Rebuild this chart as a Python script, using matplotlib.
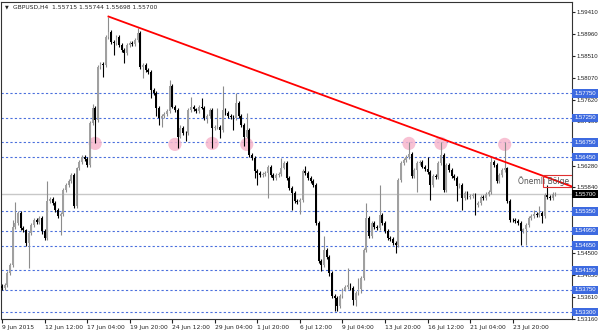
import matplotlib.pyplot as plt
import matplotlib.transforms as mtransforms
from matplotlib.patches import Rectangle
import numpy as np

# GBPUSD H4 closes
closes = [
    1.5379, 1.5386, 1.5409, 1.5426, 1.5504, 1.5511, 1.5531, 1.5501, 1.5496, 1.5470,
    1.5491, 1.5508, 1.5518, 1.5514, 1.5521, 1.5494, 1.5481, 1.5555, 1.5560, 1.5552,
    1.5538, 1.5525, 1.5530, 1.5579, 1.5589, 1.5596, 1.5609, 1.5545, 1.5622, 1.5636,
    1.5646, 1.5641, 1.5629, 1.5714, 1.5745, 1.5721, 1.5829, 1.5835, 1.5832, 1.5890,
    1.5900, 1.5880, 1.5877, 1.5890, 1.5873, 1.5863, 1.5856, 1.5873, 1.5877, 1.5876,
    1.5883, 1.5897, 1.5829, 1.5832, 1.5822, 1.5819, 1.5782, 1.5775, 1.5745, 1.5725,
    1.5728, 1.5733, 1.5738, 1.5789, 1.5748, 1.5741, 1.5687, 1.5704, 1.5695, 1.5694,
    1.5741, 1.5747, 1.5742, 1.5738, 1.5748, 1.5746, 1.5725, 1.5728, 1.5741, 1.5704,
    1.5706, 1.5707, 1.5701, 1.5741, 1.5734, 1.5729, 1.5727, 1.5725, 1.5756, 1.5729,
    1.5711, 1.5687, 1.5701, 1.5650, 1.5643, 1.5616, 1.5612, 1.5609, 1.5611, 1.5612,
    1.5626, 1.5609, 1.5602, 1.5609, 1.5611, 1.5624, 1.5633, 1.5602, 1.5582, 1.5572,
    1.5555, 1.5553, 1.5558, 1.5616, 1.5612, 1.5602, 1.5596, 1.5589, 1.5511, 1.5433,
    1.5426, 1.5457, 1.5443, 1.5409, 1.5362, 1.5359, 1.5342, 1.5362, 1.5376, 1.5382,
    1.5386, 1.5379, 1.5355, 1.5369, 1.5377, 1.5399, 1.5457, 1.5521, 1.5484, 1.5511,
    1.5504, 1.5501, 1.5528, 1.5512, 1.5494, 1.5481, 1.5479, 1.5470, 1.5467, 1.5599,
    1.5633, 1.5640, 1.5646, 1.5652, 1.5606, 1.5619, 1.5633, 1.5636, 1.5626, 1.5620,
    1.5614, 1.5589, 1.5606, 1.5605, 1.5633, 1.5650, 1.5579, 1.5629, 1.5619, 1.5606,
    1.5602, 1.5586, 1.5589, 1.5562, 1.5572, 1.5565, 1.5567, 1.5569, 1.5548, 1.5552,
    1.5565, 1.5562, 1.5570, 1.5575, 1.5636, 1.5629, 1.5596, 1.5609, 1.5619, 1.5622,
    1.5555, 1.5518, 1.5517, 1.5516, 1.5511, 1.5494, 1.5498, 1.5508, 1.5521, 1.5526,
    1.5530, 1.5528, 1.5531, 1.5525, 1.5569, 1.5565, 1.5562, 1.5570, 1.5570,
]
first_open = 1.5384

# wick lengths in pips above / below the body
up_wick = [
    4, 4, 4, 4, 14, 43, 4, 4, 4, 4,
    4, 4, 4, 4, 4, 4, 4, 41, 4, 4,
    4, 4, 4, 4, 4, 4, 4, 4, 4, 4,
    4, 4, 4, 4, 8, 4, 4, 4, 4, 4,
    31, 4, 4, 4, 4, 4, 4, 4, 4, 4,
    4, 10, 4, 4, 4, 4, 4, 4, 4, 4,
    4, 4, 4, 13, 4, 4, 4, 7, 4, 4,
    4, 20, 4, 4, 4, 17, 4, 4, 4, 4,
    4, 38, 4, 48, 4, 4, 4, 4, 19, 4,
    4, 4, 33, 4, 4, 4, 4, 4, 4, 4,
    4, 4, 4, 4, 4, 19, 4, 4, 4, 4,
    4, 4, 4, 4, 11, 4, 4, 4, 4, 4,
    4, 27, 4, 4, 4, 4, 4, 4, 4, 4,
    34, 4, 4, 4, 22, 4, 4, 31, 4, 4,
    4, 4, 61, 4, 4, 4, 4, 4, 4, 4,
    4, 4, 4, 23, 4, 4, 4, 4, 4, 4,
    26, 4, 4, 4, 4, 25, 4, 4, 4, 4,
    4, 4, 4, 4, 4, 4, 4, 4, 4, 4,
    4, 4, 4, 4, 10, 4, 4, 4, 4, 53,
    4, 4, 4, 4, 4, 4, 4, 4, 4, 4,
    8, 4, 14, 4, 4, 20, 4, 4, 4,
]
down_wick = [
    5, 4, 4, 4, 4, 4, 4, 4, 4, 6,
    50, 4, 4, 4, 4, 6, 4, 4, 4, 4,
    4, 4, 38, 4, 4, 4, 4, 4, 4, 4,
    4, 4, 4, 4, 4, 47, 4, 4, 23, 4,
    4, 4, 25, 4, 4, 4, 20, 4, 4, 4,
    4, 4, 4, 23, 4, 4, 17, 4, 17, 14,
    18, 4, 4, 4, 4, 4, 24, 4, 4, 17,
    4, 4, 4, 4, 4, 4, 4, 10, 4, 41,
    4, 4, 17, 4, 4, 4, 4, 24, 4, 4,
    4, 20, 4, 4, 4, 14, 23, 4, 4, 4,
    50, 4, 4, 4, 4, 4, 4, 4, 4, 34,
    4, 4, 24, 4, 4, 4, 4, 4, 4, 4,
    13, 4, 4, 6, 4, 27, 10, 4, 4, 4,
    4, 4, 10, 13, 4, 8, 4, 4, 4, 4,
    4, 4, 4, 4, 4, 4, 4, 4, 17, 4,
    4, 4, 4, 4, 4, 4, 44, 4, 4, 4,
    4, 31, 4, 4, 4, 4, 4, 4, 4, 4,
    4, 31, 4, 24, 4, 4, 4, 4, 20, 4,
    4, 4, 4, 4, 4, 4, 4, 4, 4, 4,
    4, 4, 4, 4, 4, 27, 4, 31, 4, 4,
    4, 4, 4, 14, 4, 4, 4, 4, 3,
]

x_label_bars = [0, 16, 32, 48, 64, 80, 96, 112, 128, 144, 160, 176, 192]
x_labels = ['9 Jun 2015', '12 Jun 12:00', '17 Jun 04:00', '19 Jun 20:00',
            '24 Jun 12:00', '29 Jun 04:00', '1 Jul 20:00', '6 Jul 12:00',
            '9 Jul 04:00', '13 Jul 20:00', '16 Jul 12:00', '21 Jul 04:00',
            '23 Jul 20:00']

price_ticks = [1.5941, 1.5896, 1.5851, 1.5807, 1.5762, 1.5718,
               1.5628, 1.5584, 1.5450, 1.5405, 1.5361, 1.5316]
levels = [1.5775, 1.5725, 1.5675, 1.5645, 1.5535,
          1.5495, 1.5465, 1.5415, 1.5375, 1.5330]
bid = 1.5570

circle_bars = [35, 65, 79, 92, 153, 165, 189]
circle_prices = [1.5673, 1.5671, 1.5673, 1.5671, 1.5673, 1.5673, 1.5671]

trend_bars = [40, 215]
trend_prices = [1.5931, 1.5584]

zone_bars = [203.4, 222]
zone_prices = [1.5585, 1.5608]

fs = 4.3
yfont = 'Liberation Sans'

opens = np.array([first_open] + closes[:-1])
closes = np.array(closes)
body_top = np.maximum(opens, closes)
body_bot = np.minimum(opens, closes)
highs = body_top + np.array(up_wick) / 10000.0
lows = body_bot - np.array(down_wick) / 10000.0
xs = np.arange(len(closes))
up = closes >= opens

fig = plt.figure(figsize=(6, 3.33), dpi=100)
ax = fig.add_axes([0.0017, 0.042, 0.9516, 0.952])
ax.set_xlim(-0.4, 214.3)
ax.set_ylim(1.53164, 1.59605)

# support / resistance levels
for lv in levels:
    ax.axhline(lv, color='#4a6fdc', lw=0.8, ls=(0, (2, 2)), zorder=1)
ax.axhline(bid, color='#c8c8c8', lw=1.0, zorder=1)

# pink marks on the touches
ax.scatter(circle_bars, circle_prices, s=90, color='#f7b6cc', alpha=0.85,
           edgecolors='none', zorder=2)

# candles
ax.vlines(xs[up], lows[up], highs[up], color='#8c8c8c', lw=0.8, zorder=3)
ax.vlines(xs[~up], lows[~up], highs[~up], color='black', lw=0.8, zorder=3)
heights = np.maximum(body_top - body_bot, 0.00008)
colors = np.where(up, '#a0a0a0', '#000000')
ax.bar(xs, heights, bottom=body_bot, width=0.7, color=colors, lw=0, zorder=4)

# trend line + zone
ax.plot(trend_bars, trend_prices, color='#ff0000', lw=1.3, zorder=5)
ax.add_patch(Rectangle((zone_bars[0], zone_prices[0]), zone_bars[1] - zone_bars[0],
                       zone_prices[1] - zone_prices[0], fill=False,
                       ec='#e03030', lw=0.8, zorder=5))
ax.text(194, 1.5596, 'Önemli Bölge', fontsize=5.5, color='#555555',
        va='center', ha='left', zorder=6)

# axes styling
for sp in ax.spines.values():
    sp.set_color('#333333')
    sp.set_linewidth(0.8)
ax.yaxis.tick_right()
ax.set_yticks(price_ticks)
ax.set_yticklabels(['%.5f' % p for p in price_ticks], family=yfont)
ax.tick_params(axis='y', labelsize=fs, length=2, pad=1.5, colors='#222222')
ax.set_xticks(x_label_bars)
ax.set_xticklabels(x_labels, ha='left')
ax.tick_params(axis='x', labelsize=fs, length=3, pad=1, colors='#222222')

# price labels on the right axis
tr = mtransforms.blended_transform_factory(ax.transAxes, ax.transData)
for lv in levels:
    ax.text(1.004, lv, '%.5f' % lv, transform=tr, fontsize=fs, color='white',
            family=yfont, va='center', ha='left', clip_on=False, zorder=10,
            bbox=dict(boxstyle='square,pad=0.3', fc='#3d6ae0', ec='none'))
ax.text(1.004, bid, '%.5f' % bid, transform=tr, fontsize=fs, color='white',
        family=yfont, va='center', ha='left', clip_on=False, zorder=10,
        bbox=dict(boxstyle='square,pad=0.3', fc='black', ec='none'))

fig.text(0.008, 0.979, '▼', fontsize=3.5, va='center', color='#222222')
fig.text(0.021, 0.979, 'GBPUSD,H4  1.55715 1.55744 1.55698 1.55700',
         fontsize=fs, va='center', color='#222222')

fig.savefig('out.png', dpi=100)
